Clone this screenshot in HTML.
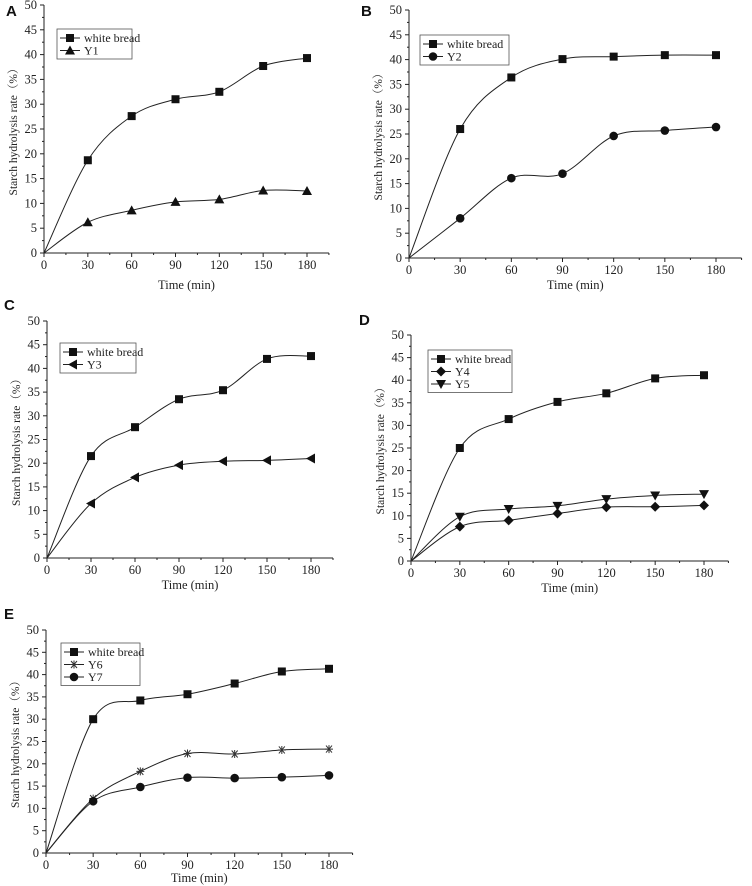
<!DOCTYPE html>
<html><head><meta charset="utf-8"><style>
html,body{margin:0;padding:0;background:#fff;}
svg{display:block;}
text{font-family:"Liberation Serif","Noto Serif CJK SC",serif;fill:#222;}
.pl{font-family:"Liberation Sans",sans-serif;font-weight:bold;font-size:15px;fill:#111;}
</style></head><body>
<svg id="fig" width="752" height="886" viewBox="0 0 752 886"></svg>
<script>
const times = [0,30,60,90,120,150,180];
const xTicks = [0,30,60,90,120,150,180];
const yTicks = [0,5,10,15,20,25,30,35,40,45,50];
const aWhite = [0,18.7,27.6,31,32.5,37.7,39.3];
const aY1 = [0,6.2,8.6,10.3,10.8,12.6,12.5];
const bWhite = [0,26,36.4,40.1,40.6,40.9,40.9];
const bY2 = [0,8,16.1,17,24.6,25.7,26.4];
const cWhite = [0,21.5,27.6,33.5,35.4,42,42.6];
const cY3 = [0,11.5,17,19.6,20.4,20.6,21];
const dWhite = [0,25,31.4,35.2,37.1,40.4,41.1];
const dY4 = [0,7.6,9,10.5,11.9,12,12.3];
const dY5 = [0,9.8,11.5,12.2,13.7,14.5,14.8];
const eWhite = [0,30,34.2,35.6,38,40.7,41.3];
const eY6 = [0,12.2,18.3,22.3,22.2,23.1,23.3];
const eY7 = [0,11.6,14.8,16.9,16.8,17,17.4];

const NS="http://www.w3.org/2000/svg";
const svg=document.getElementById('fig');
function mk(tag,attrs,parent){const e=document.createElementNS(NS,tag);for(const k in attrs)e.setAttribute(k,attrs[k]);(parent||svg).appendChild(e);return e;}

function marker(g,type,x,y){
  let e;
  if(type==='square') e=mk('rect',{x:x-4,y:y-4,width:8,height:8,fill:'#111'},g);
  else if(type==='circle') e=mk('circle',{cx:x,cy:y,r:4.3,fill:'#111'},g);
  else if(type==='tri') e=mk('polygon',{points:`${x},${y-5} ${x-5},${y+4} ${x+5},${y+4}`,fill:'#111'},g);
  else if(type==='tridown') e=mk('polygon',{points:`${x},${y+5} ${x-5},${y-4} ${x+5},${y-4}`,fill:'#111'},g);
  else if(type==='trileft') e=mk('polygon',{points:`${x-5},${y} ${x+4},${y-5} ${x+4},${y+5}`,fill:'#111'},g);
  else if(type==='diamond') e=mk('polygon',{points:`${x},${y-5} ${x+5},${y} ${x},${y+5} ${x-5},${y}`,fill:'#111'},g);
  else if(type==='star'){e=mk('path',{d:`M${x-4} ${y}H${x+4}M${x-3} ${y-3.5}L${x+3} ${y+3.5}M${x-3} ${y+3.5}L${x+3} ${y-3.5}M${x} ${y-4}V${y+4}`,stroke:'#333','stroke-width':1,fill:'none'},g);}
  return e;
}
function smooth(pts){
  let d=`M${pts[0][0]},${pts[0][1]}`;
  for(let i=0;i<pts.length-1;i++){
    const p0=pts[Math.max(0,i-1)],p1=pts[i],p2=pts[i+1],p3=pts[Math.min(pts.length-1,i+2)];
    const c1=[p1[0]+(p2[0]-p0[0])/6,p1[1]+(p2[1]-p0[1])/6];
    const c2=[p2[0]-(p3[0]-p1[0])/6,p2[1]-(p3[1]-p1[1])/6];
    d+=` C${c1[0]},${c1[1]} ${c2[0]},${c2[1]} ${p2[0]},${p2[1]}`;
  }
  return d;
}
function panel(cfg){
  const g=mk('g',{});
  
  
  const X=v=>cfg.x0+(cfg.x180-cfg.x0)*v/180;
  const Y=v=>cfg.y0-(cfg.y0-cfg.y50)*v/50;
  const lbl=mk('text',{x:cfg.lx,y:cfg.ly,class:'pl'},g);lbl.textContent=cfg.id;
  
  
  const xEnd=X(195);
  const ax=mk('path',{d:`M${cfg.x0},${Y(50)}V${cfg.y0}H${xEnd}`,stroke:'#222','stroke-width':1,fill:'none'},g);
  
  
  for(let v=0;v<=50;v+=2.5){const maj=v%5===0;mk('line',{x1:cfg.x0,x2:cfg.x0-(maj?4:2),y1:Y(v),y2:Y(v),stroke:'#222'},g);}
  for(let v=0;v<=195;v+=15){const maj=v%30===0;mk('line',{x1:X(v),x2:X(v),y1:cfg.y0,y2:cfg.y0+(maj?4:2),stroke:'#222'},g);}
  yTicks.forEach(v=>{const t=mk('text',{x:cfg.x0-7,y:Y(v)+4,'text-anchor':'end','font-size':12.5},g);t.textContent=v;
    });
  xTicks.forEach(v=>{const t=mk('text',{x:X(v),y:cfg.y0+16,'text-anchor':'middle','font-size':12.5},g);t.textContent=v;
    });
  const xt=mk('text',{x:(cfg.x0+xEnd)/2,y:cfg.y0+cfg.xto,'text-anchor':'middle','font-size':12.5},g);xt.textContent='Time (min)';
  
  const yc=(cfg.y0+cfg.y50)/2;
  const yt=mk('text',{x:cfg.x0-27,y:yc,'text-anchor':'middle','font-size':11.5,transform:`rotate(-90 ${cfg.x0-27} ${yc})`},g);yt.textContent='Starch hydrolysis rate（%）';
  
  cfg.series.forEach(s=>{
    const pts=times.map((t,i)=>[X(t),Y(s.vals[i])]);
    const p=mk('path',{d:smooth(pts),stroke:'#222','stroke-width':1,fill:'none'},g);
    
    
    pts.forEach((pt,i)=>{if(i===0)return;const m=marker(g,s.m,pt[0],pt[1]);
      
      });
  });
  const L=cfg.leg;const rowH=12.5;
  const box=mk('rect',{x:L[0],y:L[1],width:L[2],height:cfg.series.length*rowH+5,fill:'#fff',stroke:'#555','stroke-width':0.8},g);
  
  cfg.series.forEach((s,i)=>{
    const yy=L[1]+9+i*rowH;
    mk('line',{x1:L[0]+3,x2:L[0]+23,y1:yy,y2:yy,stroke:'#222'},g);
    marker(g,s.m,L[0]+13,yy);
    const t=mk('text',{x:L[0]+27,y:yy+4,'font-size':12},g);t.textContent=s.name;
    
  });
}
panel({id:'A',lx:6,ly:16,x0:44,y0:253,y50:5,x180:307,xto:36,leg:[57,29,75],
  series:[{name:'white bread',vals:aWhite,m:'square'},{name:'Y1',vals:aY1,m:'tri'}]});
panel({id:'B',lx:361,ly:16,x0:409,y0:258,y50:10,x180:716,xto:31,leg:[420,35,89],
  series:[{name:'white bread',vals:bWhite,m:'square'},{name:'Y2',vals:bY2,m:'circle'}]});
panel({id:'C',lx:4,ly:310,x0:47,y0:558,y50:321,x180:311,xto:31,leg:[60,343,76],
  series:[{name:'white bread',vals:cWhite,m:'square'},{name:'Y3',vals:cY3,m:'trileft'}]});
panel({id:'D',lx:359,ly:325,x0:411,y0:561,y50:335,x180:704,xto:31,leg:[428,350,84],
  series:[{name:'white bread',vals:dWhite,m:'square'},{name:'Y4',vals:dY4,m:'diamond'},{name:'Y5',vals:dY5,m:'tridown'}]});
panel({id:'E',lx:4,ly:619,x0:46,y0:853,y50:630,x180:329,xto:29,leg:[61,643,79],
  series:[{name:'white bread',vals:eWhite,m:'square'},{name:'Y6',vals:eY6,m:'star'},{name:'Y7',vals:eY7,m:'circle'}]});
</script>
</body></html>
